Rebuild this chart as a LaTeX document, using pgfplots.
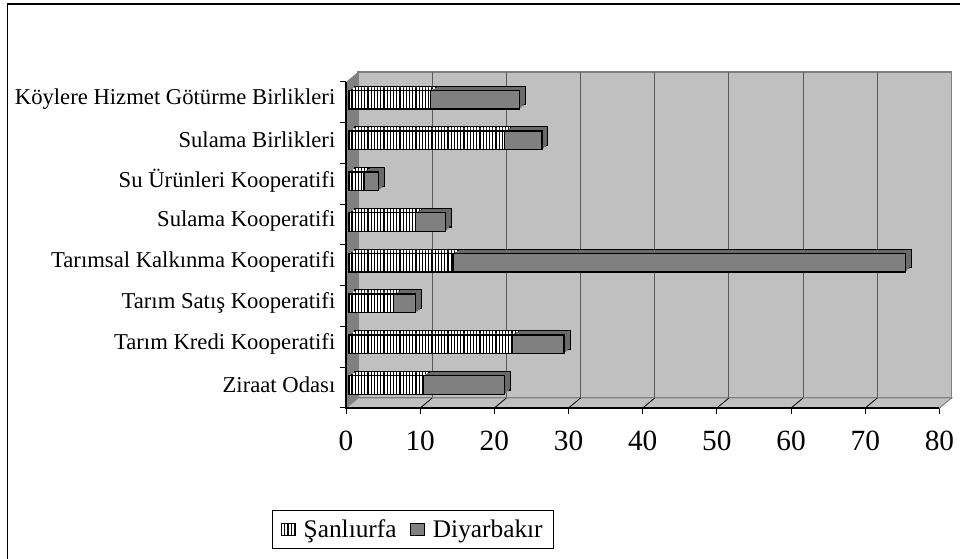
\documentclass[border=0pt]{standalone}
\usepackage{fontspec}
\setmainfont{Liberation Serif}
\usepackage{pgfplots}
\usepackage{pgfplotstable}
\pgfplotsset{compat=1.18}
\usetikzlibrary{patterns.meta}

\definecolor{wall}{HTML}{C0C0C0}
\definecolor{sidewall}{HTML}{808080}
\definecolor{dbar}{HTML}{808080}
\definecolor{dtop}{HTML}{6A6A6A}

% y = category index (0 = Ziraat Odasi, bottom)
\pgfplotstableread{
y sanli diyar
0 10 11
1 22 7
2 6 3
3 14 61
4 9 4
5 2 2
6 21 5
7 11 12
}\datatable

\pgfplotsset{
  base/.style={
    scale only axis, width=445.1pt, height=244.5pt,
    xmin=0, xmax=80, ymin=-0.5, ymax=7.5,
    clip=false, anchor=south west,
  },
  bars/.style={base, hide axis, xbar stacked, bar width=14pt},
  sanli/.style={fill=white, draw=black, line width=1pt,
    postaction={pattern={Lines[angle=90,distance=2.4pt,line width=0.8pt]}, pattern color=black}},
  sanlinodraw/.style={fill=white, draw=none,
    postaction={pattern={Lines[angle=90,distance=2.4pt,line width=0.8pt]}, pattern color=black}},
}

\newcommand\barlayer[4]{%
  \begin{axis}[bars, at={(#1,#2)}]
    \addplot[#3] table[x=sanli,y=y] {\datatable};
    \addplot[#4] table[x=diyar,y=y] {\datatable};
  \end{axis}}

\begin{document}
\begin{tikzpicture}
\useasboundingbox (0,0) rectangle (720pt,419.25pt);
\draw[line width=1pt] (5.6pt,-2pt) -- (5.6pt,416.25pt) -- (722pt,416.25pt);

\begin{axis}[base, at={(259.5pt,113.25pt)},
  axis line style={draw=none},
  xtick={0,10,...,80}, xtick pos=left, ytick pos=left,
  tick align=outside, major tick length=4.5pt,
  tick style={black, line width=0.75pt},
  ytick={-0.5,0.5,...,7.5}, y tick label as interval,
  yticklabels={Ziraat Odası, Tarım Kredi Kooperatifi, Tarım Satış Kooperatifi,
    Tarımsal Kalkınma Kooperatifi, Sulama Kooperatifi, Su Ürünleri Kooperatifi,
    Sulama Birlikleri, Köylere Hizmet Götürme Birlikleri},
  yticklabel style={font=\fontsize{17}{19}\selectfont, yshift=2.5pt},
  xticklabel style={font=\fontsize{22}{24}\selectfont, yshift=-9.5pt},
  /pgf/number format/assume math mode=true,
  legend columns=2,
  legend style={at={(0.1129,-0.3727)}, anchor=center,
    draw=black, line width=0.75pt, fill=white,
    font=\fontsize{19}{21}\selectfont,
    inner xsep=6pt, inner ysep=5pt,
    /tikz/every odd column/.append style={column sep=4pt},
    /tikz/every even column/.append style={column sep=8pt}},
  legend image code/.code={\draw[#1, line width=0.75pt] (0pt,-4.5pt) rectangle (10.5pt,4.5pt);},
]
  % back wall
  \fill[wall, draw=sidewall, line width=1.2pt]
    ([shift={(9pt,7.5pt)}]axis cs:0,-0.5) rectangle ([shift={(9pt,7.5pt)}]axis cs:80,7.5);
  \pgfplotsinvokeforeach{10,20,...,70}{
    \draw[black!65, line width=0.75pt]
      ([shift={(9pt,7.5pt)}]axis cs:#1,-0.5) -- ([shift={(9pt,7.5pt)}]axis cs:#1,7.5);
  }
  % floor
  \fill[wall, draw=sidewall, line width=0.75pt]
    (axis cs:0,-0.5) -- (axis cs:80,-0.5) -- ([shift={(9pt,7.5pt)}]axis cs:80,-0.5)
    -- ([shift={(9pt,7.5pt)}]axis cs:0,-0.5) -- cycle;
  \pgfplotsinvokeforeach{10,20,...,70}{
    \draw[black, line width=0.6pt] (axis cs:#1,-0.5) -- ([shift={(9pt,7.5pt)}]axis cs:#1,-0.5);
  }
  % side wall
  \fill[sidewall]
    (axis cs:0,-0.5) -- (axis cs:0,7.5) -- ([shift={(9pt,7.5pt)}]axis cs:0,7.5)
    -- ([shift={(9pt,7.5pt)}]axis cs:0,-0.5) -- cycle;
  \draw[black, line width=0.9pt] (axis cs:0,7.5) -- (axis cs:0,-0.5) -- (axis cs:80,-0.5);
  \addlegendimage{sanli}
  \addlegendentry{Şanlıurfa}
  \addlegendimage{fill=dbar, draw=black}
  \addlegendentry{Diyarbakır}
\end{axis}

% depth of the bars (back face first, then filler layers)
\barlayer{266.25pt}{118.45pt}{sanli, line width=0.8pt}{fill=dtop, draw=black, line width=0.8pt}
\barlayer{264.75pt}{117.4pt}{sanlinodraw}{fill=dtop, draw=none}
\barlayer{263.25pt}{116.3pt}{sanlinodraw}{fill=dtop, draw=none}
% front faces
\barlayer{261.75pt}{115.25pt}{sanli}{fill=dbar, draw=black, line width=1pt}
\end{tikzpicture}
\end{document}
